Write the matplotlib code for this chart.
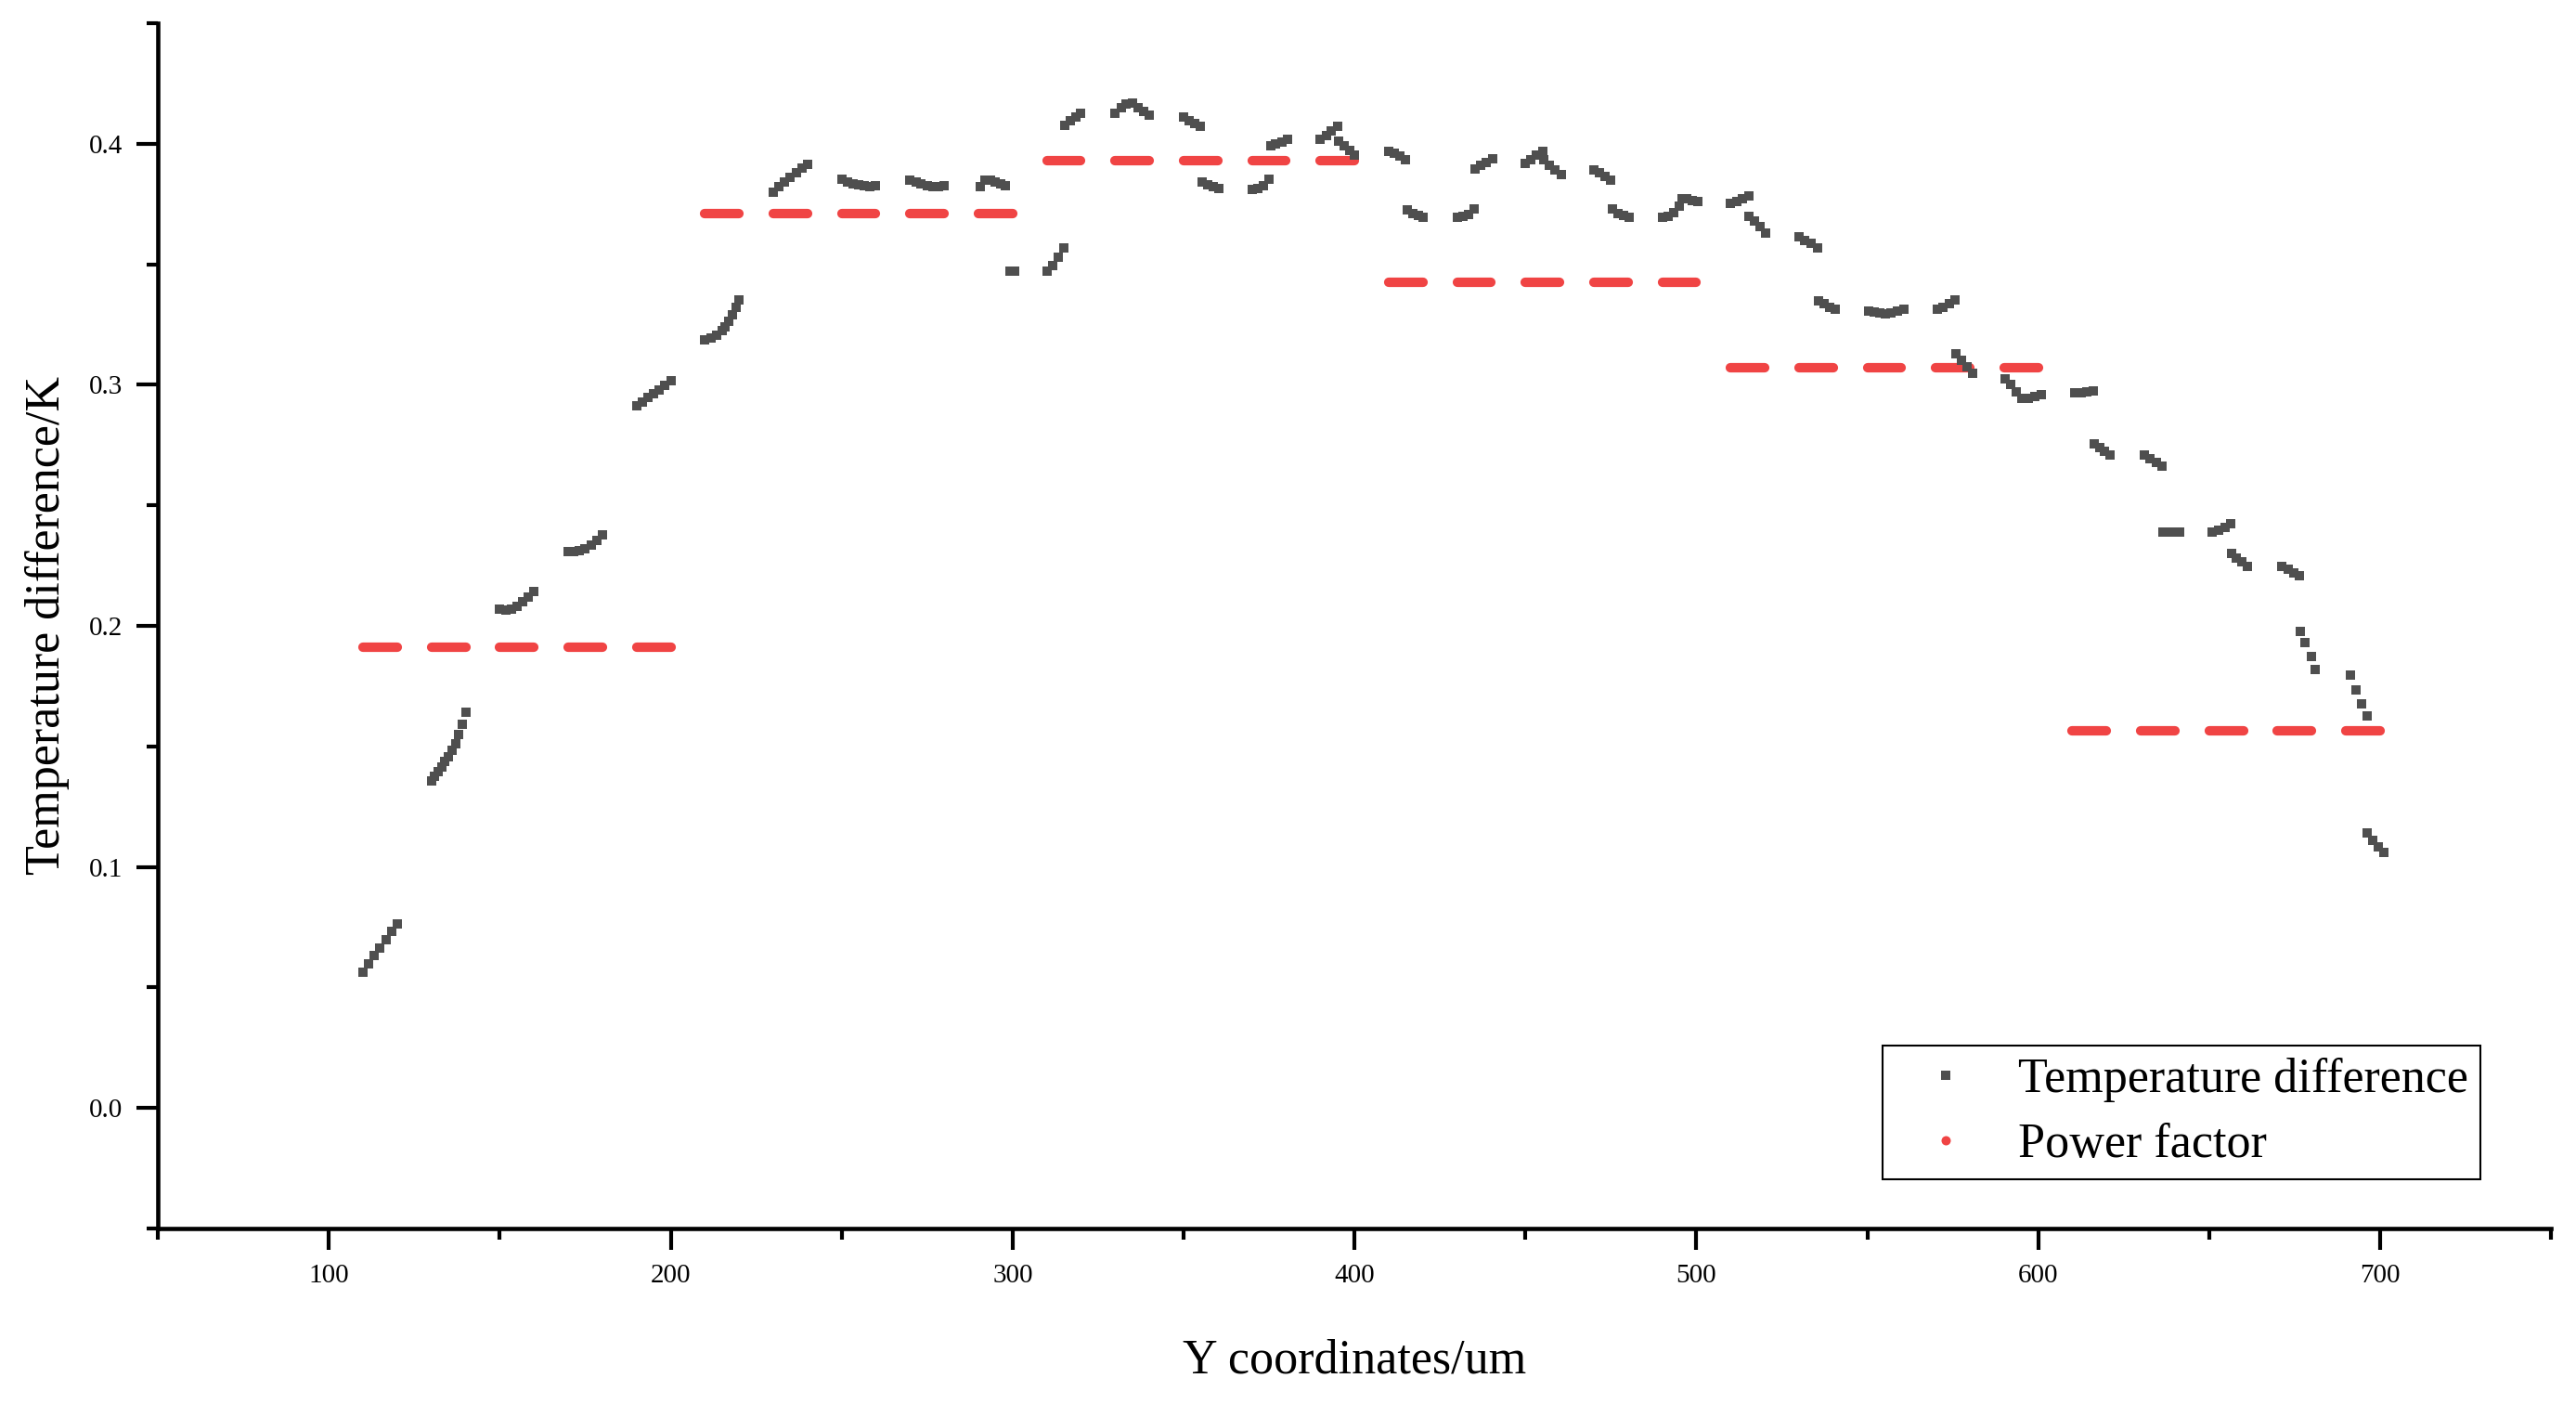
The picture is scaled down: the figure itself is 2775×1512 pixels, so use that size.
import matplotlib
matplotlib.use('Agg')
import matplotlib.pyplot as plt
from matplotlib.lines import Line2D
from matplotlib.ticker import MultipleLocator

plt.rcParams['font.family'] = ['Liberation Serif', 'DejaVu Serif']

# Temperature difference (gray squares)
td_x = [
    110, 111.7, 113.3, 115, 116.7, 118.3, 120,
    130, 131, 132, 133, 134, 135, 136, 137, 138, 139, 140,
    150, 151.7, 153.3, 155, 156.7, 158.3, 160,
    170, 171.7, 173.3, 175, 176.7, 178.3, 180,
    190, 191.7, 193.3, 195, 196.7, 198.3, 200,
    210, 211.7, 213.3, 215, 216, 217, 218, 219, 220,
    230, 231.7, 233.3, 235, 236.7, 238.3, 240,
    250, 251.7, 253.3, 255, 256.7, 258.3, 260,
    270, 271.7, 273.3, 275, 276.7, 278.3, 280,
    290.5, 292, 293.5, 295, 296.5, 298, 299.3, 300.7,
    310, 311.7, 313.3, 315, 315.3, 316.9, 318.5, 320,
    330, 331.7, 333.3, 335, 336.7, 338.3, 340,
    350, 351.7, 353.3, 355, 355.4, 357, 358.6, 360.2,
    370, 371.7, 373.3, 375, 375.5, 377, 378.7, 380.3,
    390, 391.7, 393.3, 395, 395.3, 396.9, 398.5, 400.1,
    410, 411.7, 413.3, 415, 415.4, 417, 418.6, 420.2,
    430, 431.7, 433.3, 435, 435.3, 437, 438.6, 440.3,
    450, 451.7, 453.3, 455, 455.4, 457, 458.7, 460.4,
    470, 471.7, 473.3, 475, 475.5, 477.1, 478.7, 480.3,
    490, 491.7, 493.3, 495, 495.7, 497.3, 498.9, 500.5,
    510, 511.8, 513.6, 515.4, 515.5, 517.1, 518.7, 520.3,
    530, 531.8, 533.6, 535.4, 535.7, 537.3, 538.9, 540.5,
    550.4, 552, 553.7, 555.4, 557, 558.8, 560.6,
    570.4, 572.2, 574, 575.7, 575.9, 577.6, 579.2, 580.9,
    590.3, 591.9, 593.6, 595.3, 597.2, 599.1, 601,
    610.7, 612.5, 614.2, 616, 616.3, 617.9, 619.4, 621,
    631.1, 632.8, 634.5, 636.2, 636.5, 638.1, 639.8, 641.4,
    650.9, 652.7, 654.6, 656.4, 656.5, 658, 659.6, 661.1,
    671.3, 673, 674.7, 676.4, 676.6, 678, 679.8, 681.1,
    691.4, 693, 694.7, 696.3, 696.3, 697.9, 699.5, 701,
]
td_y = [
    0.0565, 0.0598, 0.0632, 0.0665, 0.0698, 0.0732, 0.0765,
    0.1357, 0.1376, 0.1396, 0.1416, 0.1436, 0.1456, 0.1482, 0.1512, 0.1548, 0.1590, 0.1640,
    0.2069, 0.2066, 0.2070, 0.2082, 0.2100, 0.2120, 0.2144,
    0.2308, 0.2308, 0.2312, 0.2320, 0.2335, 0.2355, 0.2378,
    0.2912, 0.2930, 0.2947, 0.2964, 0.2980, 0.2998, 0.3015,
    0.3187, 0.3195, 0.3207, 0.3225, 0.3240, 0.3262, 0.3290, 0.3320, 0.3350,
    0.3800, 0.3822, 0.3842, 0.3862, 0.3880, 0.3897, 0.3914,
    0.3852, 0.3843, 0.3834, 0.3828, 0.3824, 0.3823, 0.3825,
    0.3850, 0.3840, 0.3832, 0.3826, 0.3822, 0.3822, 0.3824,
    0.3820, 0.3850, 0.3848, 0.3840, 0.3832, 0.3826, 0.3470, 0.3470,
    0.3472, 0.3495, 0.3530, 0.3567, 0.4077, 0.4095, 0.4112, 0.4128,
    0.4127, 0.4148, 0.4165, 0.4168, 0.4150, 0.4133, 0.4118,
    0.4112, 0.4095, 0.4082, 0.4074, 0.3840, 0.3828, 0.3820, 0.3815,
    0.3812, 0.3815, 0.3825, 0.3852, 0.3990, 0.3998, 0.4008, 0.4020,
    0.4018, 0.4035, 0.4053, 0.4072, 0.4012, 0.3992, 0.3972, 0.3952,
    0.3968, 0.3962, 0.3950, 0.3935, 0.3724, 0.3712, 0.3702, 0.3696,
    0.3696, 0.3697, 0.3705, 0.3730, 0.3896, 0.3910, 0.3923, 0.3937,
    0.3918, 0.3935, 0.3953, 0.3968, 0.3932, 0.3912, 0.3892, 0.3873,
    0.3893, 0.3880, 0.3866, 0.3850, 0.3728, 0.3712, 0.3702, 0.3696,
    0.3696, 0.3700, 0.3715, 0.3742, 0.3770, 0.3770, 0.3765, 0.3760,
    0.3752, 0.3760, 0.3770, 0.3782, 0.3700, 0.3680, 0.3655, 0.3630,
    0.3615, 0.3600, 0.3585, 0.3568, 0.3348, 0.3335, 0.3322, 0.3312,
    0.3305, 0.3300, 0.3297, 0.3296, 0.3298, 0.3305, 0.3315,
    0.3312, 0.3322, 0.3336, 0.3350, 0.3127, 0.3100, 0.3073, 0.3048,
    0.3025, 0.3000, 0.2970, 0.2942, 0.2945, 0.2953, 0.2960,
    0.2965, 0.2968, 0.2971, 0.2974, 0.2755, 0.2740, 0.2725, 0.2710,
    0.2709, 0.2695, 0.2679, 0.2662, 0.2388, 0.2388, 0.2388, 0.2389,
    0.2388, 0.2395, 0.2408, 0.2425, 0.2301, 0.2283, 0.2265, 0.2246,
    0.2246, 0.2233, 0.2220, 0.2206, 0.1977, 0.1932, 0.1873, 0.1818,
    0.1795, 0.1735, 0.1675, 0.1625, 0.1140, 0.1112, 0.1085, 0.1060,
]

# Power factor (red dots): runs of samples, one level per 100 um block
pf_x0 = [110, 130, 150, 170, 190, 210, 230, 250, 270, 290,
         310, 330, 350, 370, 390, 410, 430, 450, 470, 490,
         510, 530, 550, 570, 590, 610, 630, 650, 670, 690]
pf_x1 = [120, 140, 160, 180, 200, 220, 240, 260, 280, 300,
         320, 340, 360, 380, 400, 420, 440, 460, 480, 500,
         520, 540, 560, 580, 600, 620, 640, 660, 680, 700]
pf_y = [0.191, 0.191, 0.191, 0.191, 0.191,
        0.371, 0.371, 0.371, 0.371, 0.371,
        0.393, 0.393, 0.393, 0.393, 0.393,
        0.3425, 0.3425, 0.3425, 0.3425, 0.3425,
        0.307, 0.307, 0.307, 0.307, 0.307,
        0.1565, 0.1565, 0.1565, 0.1565, 0.1565]

GRAY = '#4f4f4f'
RED = '#f04444'

fig = plt.figure(figsize=(9.25, 5.04), dpi=300)
ax = fig.add_axes([0.0613, 0.125, 0.929, 0.8585])

ax.hlines(pf_y, pf_x0, pf_x1, colors=RED, linewidth=2.45, capstyle='round', zorder=2)
ax.plot(td_x, td_y, 's', color=GRAY, markersize=2.25, markeredgewidth=0, zorder=3)

ax.set_xlim(50, 750)
ax.set_ylim(-0.05, 0.45)
ax.xaxis.set_major_locator(MultipleLocator(100))
ax.xaxis.set_minor_locator(MultipleLocator(50))
ax.yaxis.set_major_locator(MultipleLocator(0.1))
ax.yaxis.set_minor_locator(MultipleLocator(0.05))
ax.yaxis.set_major_formatter(plt.FormatStrFormatter('%.1f'))

for s in ['top', 'right']:
    ax.spines[s].set_visible(False)
for s in ['left', 'bottom']:
    ax.spines[s].set_linewidth(1.1)

ax.tick_params(which='major', direction='out', length=5.6, width=1.0, labelsize=7, pad=3.5)
ax.tick_params(which='minor', direction='out', length=2.9, width=1.0)

ax.set_xlabel('Y coordinates/um', fontsize=12.5, labelpad=13)
ax.set_ylabel('Temperature difference/K', fontsize=12.5, labelpad=5)

handles = [
    Line2D([], [], marker='s', ls='none', color=GRAY, markersize=2.2, markeredgewidth=0),
    Line2D([], [], marker='o', ls='none', color=RED, markersize=2.4, markeredgewidth=0),
]
leg = ax.legend(handles, ['Temperature difference', 'Power factor'],
                loc='upper left', bbox_to_anchor=(0.7207, 0.1518), borderaxespad=0,
                fontsize=12.5, frameon=True, fancybox=False, framealpha=1,
                edgecolor='black', handlelength=2.1, handletextpad=0.45,
                borderpad=0.25, labelspacing=0.42)
leg.get_frame().set_linewidth(0.5)

fig.savefig('out.png', dpi=300)
